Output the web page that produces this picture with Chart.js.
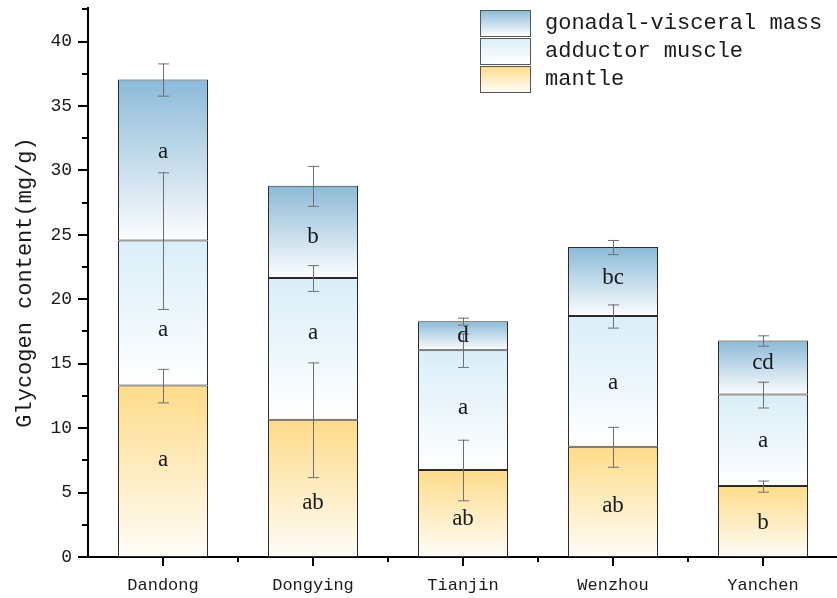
<!DOCTYPE html>
<html>
<head>
<meta charset="utf-8">
<script src="https://cdn.jsdelivr.net/npm/chart.js@4/dist/chart.umd.min.js"></script>
<style>
  html, body { margin: 0; padding: 0; background: #fff; overflow: hidden; }
  #wrap { width: 840px; height: 598px; position: relative; }
</style>
</head>
<body>
<div id="wrap"><canvas id="glycogenChart"></canvas></div>
<script>
// sampling sites
const sites = ['Dandong', 'Dongying', 'Tianjin', 'Wenzhou', 'Yanchen'];

// glycogen content (mg/g) per tissue, stacked bottom to top
const mantle = [13.3, 10.65, 6.75, 8.55, 5.5];
const adductor = [11.25, 11.0, 9.3, 10.15, 7.1];
const gonadal = [12.5, 7.15, 2.25, 5.35, 4.2];

// standard deviations
const mantleSd = [1.3, 4.45, 2.35, 1.55, 0.43];
const adductorSd = [5.3, 1.0, 1.3, 0.9, 1.0];
const gonadalSd = [1.25, 1.55, 0.27, 0.55, 0.4];

// significance letters and the value where each one sits
const mantleSig = ['a', 'ab', 'ab', 'ab', 'b'];
const adductorSig = ['a', 'a', 'a', 'a', 'a'];
const gonadalSig = ['a', 'b', 'd', 'bc', 'cd'];
const mantleSigAt = [7.5, 4.2, 2.95, 3.95, 2.65];
const adductorSigAt = [17.6, 17.4, 11.55, 13.5, 9.0];
const gonadalSigAt = [31.45, 24.8, 17.15, 21.65, 15.05];

const yTicks = [0, 5, 10, 15, 20, 25, 30, 35, 40];

const mono = '"Liberation Mono", "DejaVu Sans Mono", monospace';
const serif = '"Liberation Serif", "DejaVu Serif", serif';

const tissues = [
  { label: 'mantle', data: mantle, sd: mantleSd, sig: mantleSig, sigAt: mantleSigAt, top: '#fedb88', bottom: '#fffdf8' },
  { label: 'adductor muscle', data: adductor, sd: adductorSd, sig: adductorSig, sigAt: adductorSigAt, top: '#d9eef8', bottom: '#ffffff' },
  { label: 'gonadal-visceral mass', data: gonadal, sd: gonadalSd, sig: gonadalSig, sigAt: gonadalSigAt, top: '#8bbad8', bottom: '#fcfdfe' }
];

function stackBase(d, i) {
  let base = 0;
  for (let k = 0; k < d; k++) base += tissues[k].data[i];
  return base;
}

// vertical fade inside each segment
function segmentFill(ctx) {
  const chart = ctx.chart;
  const t = tissues[ctx.datasetIndex];
  const y = chart.scales.y;
  if (!chart.chartArea || !y || ctx.dataIndex === undefined) return t.top;
  const base = stackBase(ctx.datasetIndex, ctx.dataIndex);
  const y0 = y.getPixelForValue(base + t.data[ctx.dataIndex]);
  const y1 = y.getPixelForValue(base);
  if (!isFinite(y0) || !isFinite(y1) || y0 === y1) return t.top;
  const g = chart.ctx.createLinearGradient(0, y0, 0, y1);
  g.addColorStop(0, t.top);
  g.addColorStop(1, t.bottom);
  return g;
}

// error bars, letters, tick marks and legend
const overlay = {
  id: 'overlay',
  afterDatasetsDraw(chart) {
    const c = chart.ctx;
    const x = chart.scales.x, y = chart.scales.y;
    c.save();
    tissues.forEach((t, d) => {
      t.data.forEach((v, i) => {
        const cx = x.getPixelForValue(i);
        const top = stackBase(d, i) + v;
        const yHi = y.getPixelForValue(top + t.sd[i]);
        const yLo = y.getPixelForValue(top - t.sd[i]);
        c.strokeStyle = '#6e6e6e';
        c.lineWidth = 1;
        c.beginPath();
        c.moveTo(cx + 0.5, yHi); c.lineTo(cx + 0.5, yLo);
        c.moveTo(cx - 5, yHi + 0.5); c.lineTo(cx + 6, yHi + 0.5);
        c.moveTo(cx - 5, yLo + 0.5); c.lineTo(cx + 6, yLo + 0.5);
        c.stroke();
      });
    });
    c.fillStyle = '#1a1a1a';
    c.font = '23px ' + serif;
    c.textAlign = 'center';
    c.textBaseline = 'middle';
    tissues.forEach(t => {
      t.sig.forEach((s, i) => {
        c.fillText(s, x.getPixelForValue(i), y.getPixelForValue(t.sigAt[i]));
      });
    });

    // tick marks
    const area = chart.chartArea;
    c.strokeStyle = '#000';
    c.lineWidth = 2;
    c.beginPath();
    for (let v = 0; v <= 42.5; v += 2.5) {
      const py = Math.round(y.getPixelForValue(v));
      const len = v % 5 === 0 ? 10 : 6;
      c.moveTo(area.left - len, py); c.lineTo(area.left, py);
    }
    for (let i = 0; i < sites.length; i++) {
      const px = Math.round(x.getPixelForValue(i));
      c.moveTo(px, area.bottom); c.lineTo(px, area.bottom + 9);
      const bx = Math.round(x.getPixelForValue(i + 0.5));
      c.moveTo(bx, area.bottom); c.lineTo(bx, area.bottom + 5);
    }
    c.stroke();

    // legend, top tissue first
    const order = [2, 1, 0];
    c.font = '22px ' + mono;
    c.textAlign = 'left';
    order.forEach((d, k) => {
      const t = tissues[d];
      const by = 10 + k * 28;
      const g = c.createLinearGradient(0, by, 0, by + 26);
      g.addColorStop(0, t.top);
      g.addColorStop(1, t.bottom);
      c.fillStyle = g;
      c.fillRect(480, by, 50, 26);
      c.strokeStyle = '#555';
      c.lineWidth = 1;
      c.strokeRect(480.5, by + 0.5, 50, 26);
      c.fillStyle = '#1a1a1a';
      c.fillText(t.label, 545, by + 13);
    });
    c.restore();
  }
};

const ctx = document.getElementById('glycogenChart').getContext('2d');
new Chart(ctx, {
  type: 'bar',
  data: {
    labels: sites,
    datasets: tissues.map(t => ({
      label: t.label,
      data: t.data,
      backgroundColor: segmentFill,
      borderColor: '#2b2b2b',
      borderWidth: 1,
      borderSkipped: false,
      barPercentage: 0.6,
      categoryPercentage: 1
    }))
  },
  options: {
    responsive: true,
    maintainAspectRatio: false,
    animation: false,
    layout: { padding: { top: 8, right: 2, left: 0, bottom: 0 } },
    scales: {
      x: {
        stacked: true,
        grid: { display: false, drawTicks: false },
        border: { display: true, color: '#000', width: 2 },
        ticks: { color: '#1a1a1a', padding: 18, font: { family: mono, size: 17 } },
        afterFit: s => { s.height = 41; s.paddingLeft = 0; s.paddingRight = 0; }
      },
      y: {
        stacked: true,
        min: 0,
        max: 42.6,
        grid: { display: false, drawTicks: false },
        border: { display: true, color: '#000', width: 2 },
        afterBuildTicks: s => { s.ticks = yTicks.map(v => ({ value: v })); },
        ticks: { color: '#1a1a1a', padding: 16, font: { family: mono, size: 18 } },
        title: {
          display: true,
          text: 'Glycogen content(mg/g)',
          color: '#1a1a1a',
          font: { family: mono, size: 22 },
          padding: { top: 12, bottom: 0 }
        },
        afterFit: s => { s.width = 88; s.paddingTop = 0; s.paddingBottom = 0; }
      }
    },
    plugins: {
      legend: { display: false },
      tooltip: { enabled: false }
    }
  },
  plugins: [overlay]
});
</script>
</body>
</html>
